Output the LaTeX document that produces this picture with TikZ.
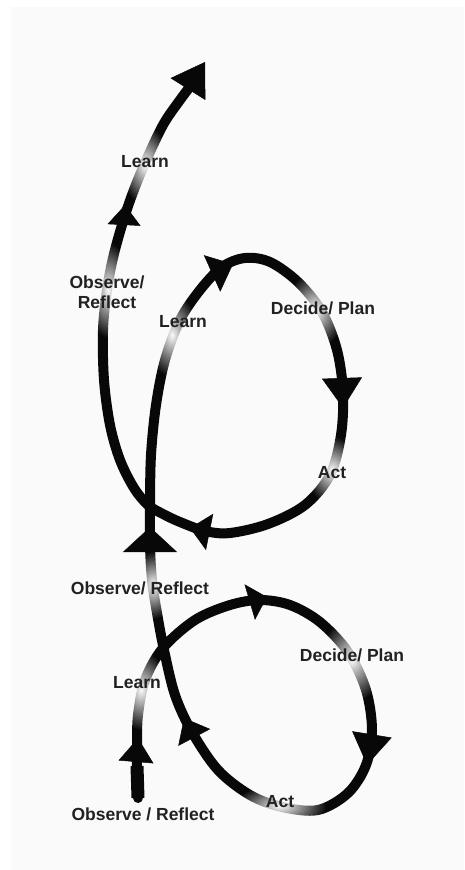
\documentclass[tikz,border=0pt]{standalone}
\usepackage{fontspec}
\setmainfont{Liberation Sans}
\usetikzlibrary{arrows.meta,fadings}
\definecolor{paper}{RGB}{250,250,250}
\definecolor{ink}{RGB}{8,8,8}
\tikzfading[name=softspot, inner color=transparent!0, middle color=transparent!10, outer color=transparent!100]

\begin{document}
\begin{tikzpicture}[x=1pt, y=-1pt,
    flow/.style={ink, line width=10pt, line cap=round, line join=round},
    head/.style 2 args={ink, line width=0.5pt, -{Triangle[width=#1, length=#2]}},
    spot/.style={fill=paper, path fading=softspot},
    lbl/.style={font=\bfseries\fontsize{17.5}{20}\selectfont, text=ink!90, align=center, inner sep=0pt}]
  \useasboundingbox (0,0) rectangle (464,870);
  \fill[paper] (11,7) rectangle (464,870);

  % the one long stroke, from the bottom up
  \draw[flow] plot[smooth, tension=0.55] coordinates {
    (138,798) (137,770) (137,745) (138,715) (145,680) (163,648)
    (195,620) (230,605) (260,600) (290,605) (320,622) (348,652)
    (366,690) (372,730) (366,765) (348,793) (318,810) (282,807)
    (250,795) (218,770) (192,732) (175,695) (164,650) (157,613)
    (152,580) (150,545) (150,505) (151,455) (156,405) (165,360)
    (180,320) (200,290) (222,267) (245,258) (270,262) (298,282)
    (322,312) (337,350) (343,392) (341,435) (330,475) (305,505)
    (268,524) (230,533) (205,531) (180,522) (163,514) (148,505)
    (134,488) (120,460) (110,425) (104,380) (103,330) (107,290)
    (113,258) (122,225) (132,195) (145,163) (163,125) (180,100)
    (192,84)};
  \draw[flow, line width=13pt, line cap=butt] (138,798) -- (137,766);

  % faded spots under the labels
  \fill[spot] (141,690) ellipse (26 and 40);
  \fill[spot] (352,660) ellipse (32 and 42);
  \fill[spot] (280,806) ellipse (46 and 22);
  \fill[spot] (153,585) ellipse (22 and 34);
  \fill[spot] (172,335) ellipse (26 and 42);
  \fill[spot] (315,310) ellipse (30 and 38);
  \fill[spot] (332,470) ellipse (26 and 34);
  \fill[spot] (108,290) ellipse (22 and 48);
  \fill[spot] (145,165) ellipse (24 and 40);

  % arrow heads along the stroke
  \draw[head={35pt}{24pt}] (136,762) -- (138,738);
  \draw[head={37pt}{18pt}] (250,602) -- (267,597);
  \draw[head={40pt}{31pt}] (372,734) -- (367,765);
  \draw[head={36pt}{22pt}] (194,737) -- (184,718);
  \draw[head={54pt}{25pt}] (150,552) -- (150,527);
  \draw[head={40pt}{23pt}] (213,273) -- (233,264);
  \draw[head={40pt}{30pt}] (342,378) -- (343,408);
  \draw[head={37pt}{20pt}] (210,532) -- (190,528);
  \draw[head={33pt}{20pt}] (124,225) -- (125,205);
  \draw[head={41pt}{32pt}] (188,89) -- (205,62);

  % labels
  \node[lbl] (obsA) at (143,814) {Observe / Reflect};
  \node[lbl] (lrnA) at (137,683) {Learn};
  \node[lbl] (decA) at (352,655) {Decide/ Plan};
  \node[lbl] (actA) at (280,802) {Act};
  \node[lbl] (obsB) at (140,588) {Observe/ Reflect};
  \node[lbl] (lrnB) at (183,322) {Learn};
  \node[lbl] (decB) at (323,308) {Decide/ Plan};
  \node[lbl] (actB) at (332,473) {Act};
  \node[lbl] (obsC) at (107,292) {Observe/\\Reflect};
  \node[lbl] (lrnC) at (145,162) {Learn};
\end{tikzpicture}
\end{document}
